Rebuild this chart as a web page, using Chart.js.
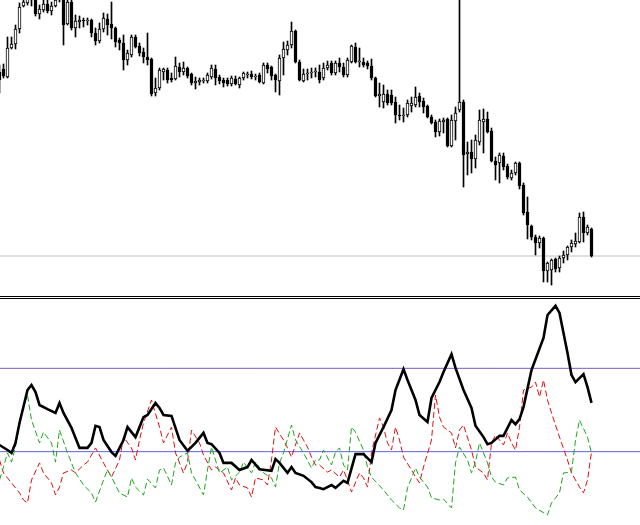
<!DOCTYPE html>
<html>
<head>
<meta charset="utf-8">
<script src="https://cdn.jsdelivr.net/npm/chart.js@4/dist/chart.umd.min.js"></script>
<style>
html,body{margin:0;padding:0;background:#fff;width:640px;height:525px;overflow:hidden}
#priceCanvas{position:absolute;left:0;top:0}
#sep{position:absolute;left:0;top:296px;width:640px;height:1px;border-top:1px solid #000;border-bottom:1px solid #000}
#adxCanvas{position:absolute;left:0;top:300px}
</style>
</head>
<body>
<canvas id="priceCanvas" width="640" height="295"></canvas>
<div id="sep"></div>
<canvas id="adxCanvas" width="640" height="225"></canvas>
<script>
// ---- price panel: candles (bar index = array position) ----
const open = [228,231,223,252,256,271,294,297,302,302, 286,290,296,289,294,300,302,276,298,272,
  278,279,279,280,267,259,271,281,276,272, 260,257,240,245,263,254,248,243,241,207,
  212,228,230,222,221,233,228,232,226,217, 218,219,219,223,231,223,220,220,216,221,
  215,222,225,226,223,225,217,235,233,225, 219,242,250,255,269,238,219,226,227,228,
  228,222,232,237,227,237,233,225,238,253, 238,238,237,234,222,204,198,206,205,198,
  185,184,185,194,195,204,199,194,183,178, 168,178,181,154,179,190,198,146,148,141,
  158,178,181,169,139,137,144,134,122,127, 137,115,88,74,63,57,62,29,30,41,
  32,42,45,53,56,58,83,67,71];
const high = [235,236,263,263,275,297,300,304,308,306, 295,300,300,298,303,306,305,300,300,285,
  284,282,282,281,272,277,287,286,298,273, 262,265,250,265,265,257,252,267,242,222,
  232,232,232,227,243,237,238,233,227,223, 222,222,227,235,235,225,222,222,224,224,
  223,228,228,229,226,227,237,237,234,226, 245,258,259,278,270,240,231,231,232,232,
  235,237,239,239,239,242,237,242,255,257, 252,242,239,241,223,217,215,210,210,203,
  195,192,200,203,213,207,202,195,185,180, 181,182,182,185,193,300,200,158,160,165,
  190,191,188,172,143,147,147,136,130,138, 138,117,103,75,65,64,63,38,41,42,
  44,49,54,60,67,87,88,75,72];
const low = [207,222,222,251,251,267,293,295,294,284, 281,288,287,285,293,298,255,275,270,263,
  272,273,275,263,255,257,268,265,261,253, 250,230,235,243,252,244,237,235,204,204,
  210,220,217,218,220,223,225,222,215,211, 215,217,217,221,215,216,213,214,214,215,
  212,220,222,221,220,217,216,227,220,208, 205,225,245,252,237,219,218,220,222,223,
  217,220,230,225,225,228,223,223,237,237, 233,233,231,220,203,193,192,195,195,177,
  180,178,183,188,193,193,187,182,176,163, 164,167,153,153,160,188,113,125,127,132,
  155,147,167,138,120,117,130,121,120,125, 111,85,61,60,45,52,18,18,15,28,
  28,37,40,48,53,57,58,65,43];
const close = [220,224,252,256,271,293,298,301,305,286, 291,296,289,294,300,303,275,298,272,279,
  280,279,280,267,259,271,282,275,272,258, 257,240,247,263,253,247,243,240,206,212,
  230,231,220,220,234,228,232,224,217,219, 220,220,225,232,222,219,217,216,222,216,
  222,227,226,223,224,218,235,231,224,220, 242,251,255,269,238,220,226,227,228,229,
  220,232,235,227,237,233,225,240,254,238, 239,235,234,222,204,206,206,197,197,185,
  184,185,197,197,203,198,193,183,177,168, 179,180,154,180,187,198,145,148,141,160,
  180,181,168,139,135,145,133,123,127,137, 114,87,75,63,57,62,29,37,40,31,
  42,45,53,57,59,83,67,73,44];

// ---- indicator panel: [bar index, value] ----
const adx = [[0,21.6],[2,20.4],[3,19.7],[4,22.1],[5,26.9],[7,34.8],[8,36.0],[9,34.3],[10,31.2],[12,30.2],
  [14,29.3],[15,31.7],[16,29.3],[18,25.7],[20,20.9],[22,20.9],[23,22.1],[24,26.2],[25,25.9],[26,22.8],
  [28,19.9],[29,19.0],[31,22.8],[32,25.9],[34,23.5],[36,28.3],[37,28.8],[39,31.7],[40,30.5],[41,28.8],
  [43,28.6],[45,22.8],[47,20.2],[49,22.1],[51,24.5],[52,22.1],[53,21.8],[55,19.7],[56,17.3],[58,17.3],
  [60,15.6],[62,16.3],[63,18.0],[65,15.8],[68,15.4],[69,18.2],[70,17.3],[72,14.9],[73,16.3],[74,14.9],
  [76,14.2],[78,12.7],[79,11.5],[80,11.3],[81,11.0],[83,12.0],[84,11.3],[86,13.0],[87,12.5],[89,19.4],
  [91,19.4],[93,17.5],[94,22.1],[96,25.9],[98,30.0],[99,34.8],[101,39.8],[102,37.2],[104,32.4],[105,28.8],
  [107,27.1],[108,32.9],[110,36.7],[111,39.1],[113,43.4],[114,40.1],[116,34.8],[118,30.5],[119,26.2],[121,23.5],
  [122,21.8],[123,22.1],[125,23.8],[126,23.8],[128,27.6],[129,26.6],[130,27.8],[131,30.7],[133,39.6],[136,47.3],
  [137,52.8],[139,55.0],[140,53.3],[142,43.7],[143,38.4],[144,36.7],[146,38.6],[147,35.5],[148,31.7]];
const plusDI = [[0,13.2],[1,16.3],[2,19.7],[3,17.5],[4,21.1],[5,27.6],[7,33.6],[8,27.6],[10,22.1],[11,24.7],
  [13,22.1],[14,17.5],[15,25.2],[17,19.7],[19,14.9],[21,12.0],[23,10.1],[24,7.9],[26,13.2],[27,15.6],
  [28,13.9],[30,10.1],[32,9.1],[33,13.7],[34,11.5],[36,9.6],[37,13.4],[39,11.3],[40,15.6],[41,16.1],
  [43,12.0],[44,17.3],[45,18.7],[47,19.7],[48,14.9],[49,13.2],[51,9.6],[52,15.6],[53,21.1],[55,14.9],
  [57,16.3],[58,13.2],[60,15.1],[61,17.5],[63,14.9],[64,17.5],[66,14.9],[68,13.7],[69,11.5],[70,17.3],
  [71,19.7],[73,26.4],[74,22.8],[76,19.7],[78,16.1],[79,18.0],[80,18.0],[81,20.4],[83,16.8],[84,19.9],
  [85,20.9],[86,16.8],[87,15.6],[88,25.9],[89,24.7],[91,20.4],[92,16.3],[93,13.9],[96,10.8],[98,8.4],
  [100,6.5],[101,6.0],[102,11.3],[104,16.1],[105,13.9],[107,11.5],[108,8.9],[110,8.4],[111,8.6],[113,6.5],
  [114,17.3],[115,21.1],[117,18.0],[118,14.9],[119,17.5],[120,22.1],[122,17.3],[123,13.9],[124,12.7],[126,12.0],
  [127,13.7],[129,13.9],[130,10.8],[132,9.1],[134,6.5],[137,4.8],[138,7.7],[140,10.1],[141,14.9],[143,15.1],
  [144,22.8],[145,27.6],[147,23.5],[148,19.7]];
const minusDI = [[0,18.0],[1,14.9],[2,13.7],[3,12.5],[5,10.1],[6,8.4],[7,7.7],[8,13.2],[10,17.3],[11,14.9],
  [13,12.5],[14,9.6],[15,11.5],[16,14.9],[18,15.6],[19,14.9],[21,16.8],[22,17.5],[24,20.9],[26,17.3],
  [27,15.6],[28,13.9],[30,18.0],[31,23.5],[33,20.9],[34,18.0],[35,22.8],[36,26.9],[38,32.4],[40,25.9],
  [41,22.1],[43,25.9],[44,19.7],[46,14.9],[47,17.5],[48,25.2],[50,22.1],[51,19.2],[53,15.6],[54,16.3],
  [56,14.9],[58,10.8],[59,13.7],[60,12.0],[62,11.3],[63,9.1],[64,13.7],[66,13.2],[67,12.0],[68,18.0],
  [69,25.9],[71,22.8],[72,20.9],[73,18.7],[75,24.5],[77,21.1],[78,18.7],[79,16.8],[80,16.8],[82,15.1],
  [83,15.6],[85,13.9],[86,15.6],[87,13.2],[88,10.3],[90,14.9],[91,13.7],[92,11.5],[93,19.7],[95,28.1],
  [96,25.9],[97,22.1],[98,20.4],[99,25.9],[100,22.8],[101,18.7],[103,15.6],[104,13.9],[105,12.5],[106,16.3],
  [108,22.8],[109,33.6],[110,28.3],[111,25.9],[113,24.5],[114,20.9],[115,25.2],[116,26.4],[118,20.4],[119,16.3],
  [121,14.9],[122,13.2],[123,22.1],[124,24.0],[126,21.6],[127,24.5],[128,22.1],[129,20.4],[130,25.9],[131,34.8],
  [133,35.5],[134,36.7],[135,33.1],[136,37.2],[137,32.4],[138,29.3],[140,23.5],[142,18.0],[143,14.9],[145,11.5],
  [146,10.1],[147,13.2],[148,19.9]];
const levels = [20, 40];

// ---- view settings ----
const X_MIN = 0.125, X_MAX = 160.125;
const idx = open.map((_, i) => i);
const lastClose = close[close.length - 1];

const common = {
  responsive: false, animation: false, devicePixelRatio: 1,
  layout: { padding: 0 },
  plugins: { legend: { display: false }, tooltip: { enabled: false } },
  events: []
};
const xScale = { type: 'linear', min: X_MIN, max: X_MAX, offset: false, display: false };

new Chart(document.getElementById('priceCanvas'), {
  type: 'bar',
  data: {
    datasets: [
      { type: 'bar', data: idx.map(i => ({ x: i, y: [open[i], close[i]] })),
        backgroundColor: idx.map(i => close[i] > open[i] ? '#ffffff' : '#000000'),
        borderColor: '#000000', borderWidth: 1, borderSkipped: false,
        barThickness: 3, minBarLength: 1, grouped: false, order: 1 },
      { type: 'bar', data: idx.map(i => ({ x: i, y: [low[i], high[i]] })),
        backgroundColor: '#000000', borderWidth: 0, barThickness: 1, grouped: false, order: 2 },
      { type: 'line', data: [{ x: X_MIN, y: lastClose }, { x: X_MAX, y: lastClose }],
        borderColor: '#c0c0c0', borderWidth: 1, pointRadius: 0, order: 3 }
    ]
  },
  options: Object.assign({}, common, {
    scales: {
      x: xScale,
      y: { min: 5, max: 300, display: false }
    }
  })
});

const toPts = arr => arr.map(([i, v]) => ({ x: i, y: v }));
new Chart(document.getElementById('adxCanvas'), {
  type: 'line',
  data: {
    datasets: [
      { data: toPts(adx), borderColor: '#000000', borderWidth: 2.6, pointRadius: 0, tension: 0, order: 1 },
      { data: toPts(plusDI), borderColor: '#1ea51e', borderWidth: 1, borderDash: [6, 3], pointRadius: 0, tension: 0, order: 2 },
      { data: toPts(minusDI), borderColor: '#e01010', borderWidth: 1, borderDash: [6, 3], pointRadius: 0, tension: 0, order: 3 },
      { data: [{ x: X_MIN, y: levels[0] }, { x: X_MAX, y: levels[0] }], borderColor: '#6060e0', borderWidth: 1, pointRadius: 0, order: 4 },
      { data: [{ x: X_MIN, y: levels[1] }, { x: X_MAX, y: levels[1] }], borderColor: '#7a5cc4', borderWidth: 1, pointRadius: 0, order: 5 }
    ]
  },
  options: Object.assign({}, common, {
    scales: {
      x: xScale,
      y: { min: 2.4, max: 56.4, display: false }
    }
  })
});
</script>
</body>
</html>
